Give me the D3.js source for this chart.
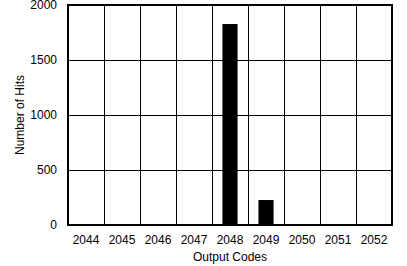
<!DOCTYPE html>
<html>
<head>
<meta charset="utf-8">
<script src="https://cdn.jsdelivr.net/npm/d3@7"></script>
<style>
  body { margin: 0; background: #fff; }
  text { font-family: "Liberation Sans", Arial, Helvetica, sans-serif; }
</style>
</head>
<body>
<div id="chart"></div>
<script>
// data
const codes = ["2044", "2045", "2046", "2047", "2048", "2049", "2050", "2051", "2052"]
const hits = [0, 0, 0, 0, 1827, 227, 0, 0, 0]
const yTicks = [0, 500, 1000, 1500, 2000]

const width = 407, height = 266
const margin = { top: 5, right: 15, bottom: 41, left: 68 }

const svg = d3.select("#chart").append("svg")
    .attr("width", width)
    .attr("height", height)

let x = d3.scaleBand()
    .domain(codes)
    .range([margin.left, width - margin.right])
    .padding(0)
let y = d3.scaleLinear()
    .domain([0, 2000])
    .range([height - margin.bottom, margin.top])

//网格线
let grid = svg.append("g")
grid.selectAll("line.h")
    .data(yTicks)
    .enter()
    .append("line")
    .attr("x1", margin.left)
    .attr("x2", width - margin.right)
    .attr("y1", (d) => Math.round(y(d)) + 0.5)
    .attr("y2", (d) => Math.round(y(d)) + 0.5)
    .attr("stroke", "#000")
    .attr("stroke-width", 1)
grid.selectAll("line.v")
    .data(codes.slice(1))
    .enter()
    .append("line")
    .attr("x1", (d) => Math.round(x(d)) + 0.5)
    .attr("x2", (d) => Math.round(x(d)) + 0.5)
    .attr("y1", margin.top)
    .attr("y2", height - margin.bottom)
    .attr("stroke", "#000")
    .attr("stroke-width", 1)

//柱子
let barW = x.bandwidth() * 0.42
svg.append("g")
    .selectAll("rect")
    .data(hits)
    .enter()
    .append("rect")
    .attr("x", (d, i) => x(codes[i]) + (x.bandwidth() - barW) / 2)
    .attr("y", (d) => y(d))
    .attr("width", barW)
    .attr("height", (d) => y(0) - y(d))
    .attr("fill", "#000")

//外框
svg.append("rect")
    .attr("x", margin.left)
    .attr("y", margin.top)
    .attr("width", width - margin.right - margin.left)
    .attr("height", height - margin.bottom - margin.top)
    .attr("fill", "none")
    .attr("stroke", "#000")
    .attr("stroke-width", 2)

//坐标轴
let yAxis = svg.append("g")
    .attr("transform", `translate(${margin.left},0)`)
    .call(d3.axisLeft(y).tickValues(yTicks).tickFormat(d3.format("d")).tickSize(0).tickPadding(11))
let xAxis = svg.append("g")
    .attr("transform", `translate(0,${height - margin.bottom})`)
    .call(d3.axisBottom(x).tickSize(0).tickPadding(10))
;[yAxis, xAxis].forEach((a) => {
    a.select(".domain").remove()
    a.selectAll("text")
        .attr("font-size", 12)
        .attr("font-family", "Liberation Sans, Arial, sans-serif")
        .attr("fill", "#000")
})

svg.append("text")
    .attr("x", (margin.left + width - margin.right) / 2)
    .attr("y", 261)
    .attr("text-anchor", "middle")
    .attr("font-size", 12)
    .text("Output Codes")

svg.append("text")
    .attr("transform", `translate(24,${(margin.top + height - margin.bottom) / 2}) rotate(-90)`)
    .attr("text-anchor", "middle")
    .attr("font-size", 12)
    .text("Number of Hits")
</script>
</body>
</html>
